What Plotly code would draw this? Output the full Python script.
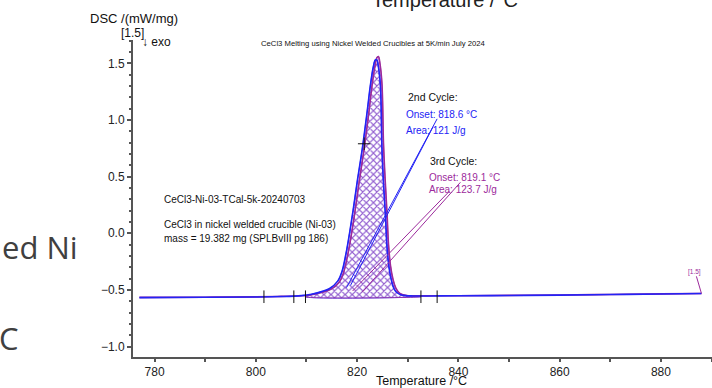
import plotly.graph_objects as go

# ---- data ----
t_cycle2 = [777, 790, 800, 805, 809, 811, 813, 814.5, 816.2, 817, 817.8, 818.5, 819.2, 820, 821, 822, 822.6,
            823.2, 823.6, 823.9, 824.2, 824.6, 824.9, 825.2, 825.6, 825.9, 826.3, 826.8, 827.3, 827.9,
            828.6, 829.5, 831, 835, 840, 850, 860, 870, 880, 888]
v_cycle2 = [-0.568, -0.565, -0.562, -0.558, -0.55, -0.538, -0.515, -0.49, -0.42, -0.34, -0.18, 0.0, 0.2,
            0.45, 0.74, 1.08, 1.30, 1.47, 1.53, 1.53, 1.47, 1.30, 0.75, 0.45, 0.15, -0.12, -0.30, -0.42,
            -0.49, -0.525, -0.542, -0.55, -0.553, -0.553, -0.552, -0.549, -0.546, -0.541, -0.536, -0.532]

t_cycle3 = [777, 790, 800, 805, 809, 811, 813, 814.8, 816.5, 817.3, 818.1, 818.8, 819.5, 820.3, 821.3, 822.3,
            822.9, 823.5, 823.9, 824.2, 824.5, 824.9, 825.2, 825.5, 825.9, 826.2, 826.6, 827.1, 827.6,
            828.2, 828.9, 829.8, 831, 835, 840, 850, 860, 870, 880, 888]
v_cycle3 = [-0.566, -0.564, -0.561, -0.557, -0.552, -0.542, -0.522, -0.495, -0.43, -0.35, -0.2, -0.03, 0.17,
            0.42, 0.72, 1.06, 1.29, 1.47, 1.55, 1.56, 1.50, 1.32, 0.80, 0.50, 0.18, -0.10, -0.29, -0.41,
            -0.48, -0.52, -0.54, -0.549, -0.552, -0.552, -0.551, -0.548, -0.545, -0.54, -0.535, -0.531]

peak_limits = [809.8, 832.6]     # integration limits
baseline_value = -0.56

tick_marks_t = [801.6, 807.5, 809.8, 832.6, 835.8, 821.4]
tick_marks_v = [-0.56, -0.56, -0.56, -0.56, -0.56, 0.79]

leader_blue_t = [[835.8, 817.9], [835.0, 818.7]]
leader_blue_v = [[1.01, -0.48], [0.94, -0.46]]
leader_purple_t = [[840.4, 821.0], [838.2, 819.1]]
leader_purple_v = [[0.45, -0.52], [0.37, -0.51]]

BLUE = "#2323f5"
PURPLE = "#9c2a9c"

fig = go.Figure()


def fill_polygon(ts, vs):
    xs, ys = [], []
    for t, v in zip(ts, vs):
        if peak_limits[0] <= t <= peak_limits[1]:
            xs.append(t)
            ys.append(v)
    xs = [peak_limits[0]] + xs + [peak_limits[1], peak_limits[0]]
    ys = [baseline_value] + ys + [baseline_value, baseline_value]
    return xs, ys


for ts, vs, col in [(t_cycle2, v_cycle2, BLUE), (t_cycle3, v_cycle3, PURPLE)]:
    fx, fy = fill_polygon(ts, vs)
    fig.add_trace(go.Scatter(x=fx, y=fy, mode="lines", line=dict(width=0.8, color=col),
                             line_shape="spline",
                             fill="toself", fillcolor="rgba(0,0,0,0)",
                             fillpattern=dict(shape="x", fgcolor=col, bgcolor="rgba(0,0,0,0)",
                                              size=5, solidity=0.38),
                             hoverinfo="skip", showlegend=False))

fig.add_trace(go.Scatter(x=t_cycle3, y=v_cycle3, mode="lines", line=dict(color=PURPLE, width=1.6),
                         line_shape="spline", showlegend=False))
fig.add_trace(go.Scatter(x=t_cycle2, y=v_cycle2, mode="lines", line=dict(color=BLUE, width=1.6),
                         line_shape="spline", showlegend=False))

for xs, ys in zip(leader_blue_t, leader_blue_v):
    fig.add_trace(go.Scatter(x=xs, y=ys, mode="lines", line=dict(color=BLUE, width=1), showlegend=False))
for xs, ys in zip(leader_purple_t, leader_purple_v):
    fig.add_trace(go.Scatter(x=xs, y=ys, mode="lines", line=dict(color=PURPLE, width=1), showlegend=False))

fig.add_trace(go.Scatter(x=tick_marks_t, y=tick_marks_v, mode="markers",
                         marker=dict(symbol="line-ns", size=9, line=dict(color="#111", width=1)),
                         showlegend=False))
fig.add_trace(go.Scatter(x=tick_marks_t[-1:], y=tick_marks_v[-1:], mode="markers",
                         marker=dict(symbol="line-ew", size=9, line=dict(color="#111", width=1)),
                         showlegend=False))

# end marker "[1.5]"
fig.add_trace(go.Scatter(x=[t_cycle2[-1], t_cycle2[-1] - 1.0], y=[v_cycle2[-1], -0.38], mode="lines",
                         line=dict(color=PURPLE, width=1), showlegend=False))

W, H = 712, 388
L, R, T, B = 133, 0, 40, 31
pw, ph = W - L - R, H - T - B


def px(x):
    return (x - L) / pw


def py(y):
    return (H - B - y) / ph


ann = []


def add_text(text, x, y, size, color="#111", xanchor="left", yanchor="middle", family="Liberation Sans"):
    ann.append(dict(text=text, x=px(x), y=py(y), xref="paper", yref="paper", showarrow=False,
                    xanchor=xanchor, yanchor=yanchor, font=dict(size=size, color=color, family=family)))


add_text("2nd Cycle:", 406, 97, 10.5)
add_text("Onset: 818.6 °C", 404, 115, 10, BLUE)
add_text("Area: 121 J/g", 404, 130, 10, BLUE)
add_text("3rd Cycle:", 428, 161, 10.5)
add_text("Onset: 819.1 °C", 427, 177, 10, PURPLE)
add_text("Area: 123.7 J/g", 427, 190, 10, PURPLE)
add_text("CeCl3-Ni-03-TCal-5k-20240703", 162, 199, 10)
add_text("CeCl3 in nickel welded crucible (Ni-03)", 162, 225, 10)
add_text("mass = 19.382 mg (SPLBvIII pg 186)", 162, 238, 10)
add_text("CeCl3 Melting using Nickel Welded Crucibles at 5K/min July 2024", 373, 43, 7.7, xanchor="center")
add_text("DSC /(mW/mg)", 88, 19, 13)
add_text("[1.5]", 119, 33, 12)
add_text("↓ exo", 140, 42, 12)
add_text("[1.5]", 694, 272, 6.5, PURPLE, xanchor="center")
add_text("Temperature /°C", 421, 380.5, 12.5, xanchor="center")
# background slide text
add_text("ed Ni", 0, 247, 31, "#404040", family="Open Sans")
add_text("C", -3, 338, 31, "#404040", family="Open Sans")
add_text("Temperature /°C", 445, 13, 20, "#222", xanchor="center", yanchor="bottom")

fig.update_layout(
    width=W, height=H, margin=dict(l=L, r=R, t=T, b=B),
    paper_bgcolor="white", plot_bgcolor="white",
    font=dict(family="Liberation Sans", size=12, color="#222"),
    annotations=ann,
    xaxis=dict(range=[775.74, 890.08], dtick=20, tick0=780, showgrid=False, zeroline=False,
               showline=True, linecolor="#555", linewidth=2, ticks="outside", ticklen=3,
               tickcolor="#555", tickwidth=1.5, tickfont=dict(size=12, color="#222"),
               minor=dict(dtick=10, ticks="outside", ticklen=3, tickcolor="#555")),
    yaxis=dict(range=[-1.092, 1.706], dtick=0.5, tick0=0, tickformat=".1f", showgrid=False,
               zeroline=False, showline=True, linecolor="#555", linewidth=2, ticks="outside",
               ticklen=4, tickcolor="#555", tickwidth=1.5, tickfont=dict(size=12, color="#222"),
               minor=dict(dtick=0.1, ticks="outside", ticklen=2, tickcolor="#555")),
)

fig.write_html("out.html", config={"displayModeBar": False},
               post_script="document.body.style.margin='0';document.body.style.overflow='hidden';")
